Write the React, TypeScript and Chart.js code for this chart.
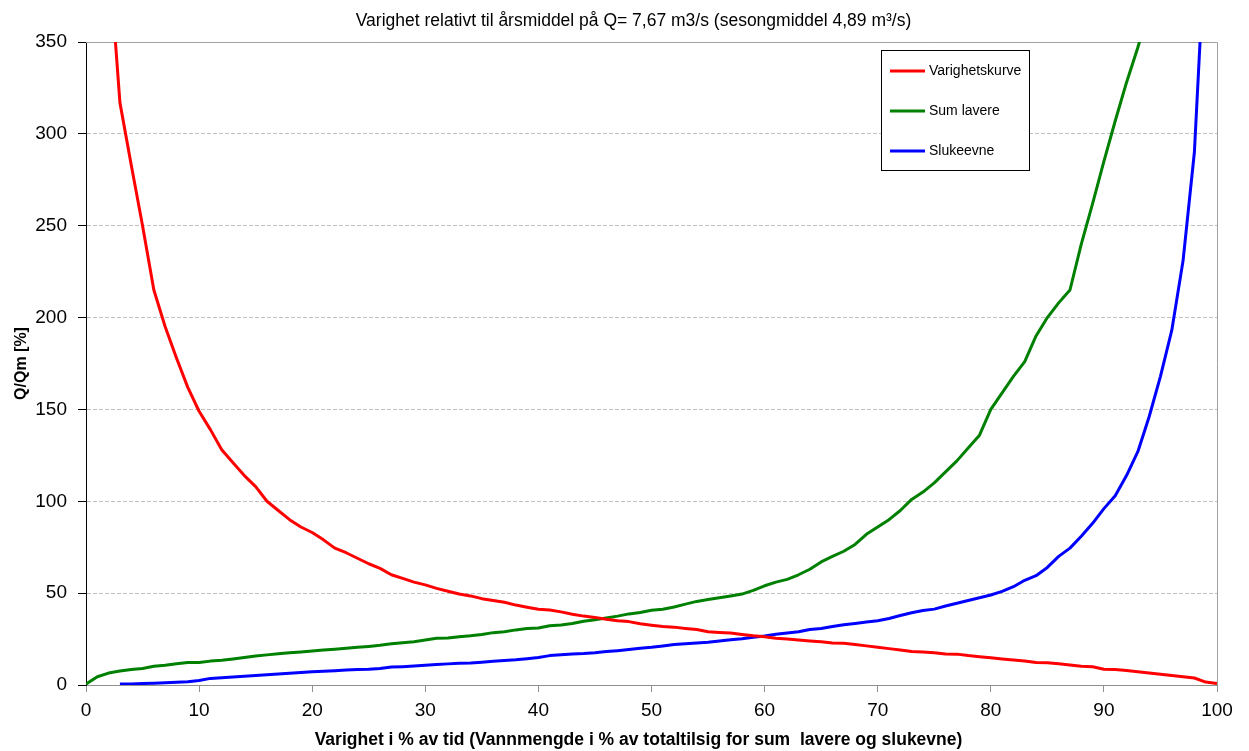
import React, { useEffect, useRef } from "react";
import { Chart, registerables } from "chart.js";

Chart.register(...registerables);

const durationPct: number[] = Array.from({ length: 101 }, (_, i) => i);

const varighetskurve: (number | null)[] = [
  800, 550, 400, 317, 283, 250, 215, 195, 178, 162,
  149, 139, 128, 121, 114, 108, 100, 95, 90, 86,
  83, 79, 74.5, 72, 69, 66, 63.5, 60, 58, 56,
  54.5, 52.6, 51, 49.5, 48.5, 47, 46, 45, 43.5, 42.3,
  41.2, 40.8, 39.8, 38.5, 37.5, 36.8, 35.8, 35, 34.5, 33.3,
  32.5, 31.8, 31.5, 30.8, 30.2, 29, 28.6, 28.3, 27.5, 26.8,
  26.3, 25.5, 25, 24.5, 24, 23.5, 22.8, 22.7, 22, 21.3,
  20.5, 19.8, 19, 18.2, 18, 17.6, 16.9, 16.8, 16, 15.4,
  14.8, 14.2, 13.6, 13, 12.3, 12.1, 11.6, 10.9, 10.2, 9.9,
  8.6, 8.5, 7.9, 7.2, 6.5, 5.9, 5.2, 4.5, 3.8, 1.6,
  0.8,
];

const sumLavere: (number | null)[] = [
  0.5, 4.5, 6.5, 7.6, 8.4, 9, 10.2, 10.8, 11.6, 12.3,
  12.3, 13, 13.5, 14.2, 15, 15.8, 16.4, 17, 17.5, 18,
  18.5, 19, 19.5, 20, 20.5, 21, 21.6, 22.4, 23, 23.6,
  24.5, 25.4, 25.6, 26.3, 26.8, 27.5, 28.5, 29, 30, 30.7,
  31, 32.3, 32.7, 33.5, 34.7, 35.5, 36.5, 37.5, 38.7, 39.5,
  40.7, 41.2, 42.5, 44, 45.5, 46.5, 47.5, 48.5, 49.5, 51.5,
  54, 56, 57.5, 60, 63, 67, 70, 72.8, 76.5, 82,
  86, 90, 95, 101, 105, 110, 116, 122, 129, 136,
  150, 159, 168, 176, 190, 200, 208, 215, 240, 262,
  285, 307, 328, 347, 368, null, null, null, null, null,
  null,
];

const slukeevne: (number | null)[] = [
  null, null, null, 0.5, 0.6, 0.8, 1, 1.2, 1.5, 1.8,
  2.5, 3.6, 4, 4.4, 4.8, 5.2, 5.6, 6, 6.4, 6.8,
  7.2, 7.5, 7.8, 8.1, 8.4, 8.6, 9, 9.8, 10, 10.3,
  10.7, 11.1, 11.5, 11.8, 12, 12.4, 12.9, 13.3, 13.7, 14.3,
  15, 16, 16.5, 16.9, 17.1, 17.5, 18.2, 18.7, 19.3, 20,
  20.5, 21.2, 22, 22.4, 22.8, 23.3, 24, 24.6, 25.2, 26,
  26.7, 27.6, 28.3, 29, 30.2, 30.8, 31.8, 32.8, 33.5, 34.3,
  35, 36.2, 37.8, 39.3, 40.5, 41.3, 43, 44.5, 46, 47.5,
  49, 51, 53.5, 57, 59.5, 64, 70, 74.5, 81, 88,
  96, 103, 114, 127, 146, 168, 193, 231, 290, 410,
  null,
];

const seriesNames = ["Varighetskurve", "Sum lavere", "Slukeevne"];
const seriesColors = ["#ff0000", "#008000", "#0000ff"];

const yTicks = [0, 50, 100, 150, 200, 250, 300, 350];
const xTicks = [0, 10, 20, 30, 40, 50, 60, 70, 80, 90, 100];

const chartTitle = "Varighet relativt til årsmiddel på Q= 7,67 m3/s (sesongmiddel 4,89 m³/s)";
const xTitle = "Varighet i % av tid (Vannmengde i % av totaltilsig for sum  lavere og slukevne)";
const yTitle = "Q/Qm [%]";

const FONT = "'Liberation Sans', Arial, sans-serif";

const framePlugin = {
  id: "frame",
  beforeDatasetsDraw(chart: any) {
    const { ctx, chartArea } = chart;
    ctx.save();
    ctx.strokeStyle = "#a0a0a0";
    ctx.lineWidth = 1;
    ctx.beginPath();
    ctx.moveTo(chartArea.left, chartArea.top + 0.5);
    ctx.lineTo(chartArea.right + 0.5, chartArea.top + 0.5);
    ctx.lineTo(chartArea.right + 0.5, chartArea.bottom);
    ctx.stroke();
    ctx.restore();
  },
  afterDraw(chart: any) {
    const { ctx, chartArea, width, height } = chart;
    ctx.save();
    // title
    ctx.fillStyle = "#000";
    ctx.font = `17.5px ${FONT}`;
    ctx.textAlign = "center";
    ctx.textBaseline = "alphabetic";
    ctx.fillText(chartTitle, width / 2 + 9, 26);
    // x-axis title
    ctx.font = `bold 17.5px ${FONT}`;
    ctx.textBaseline = "middle";
    ctx.fillText(xTitle, width / 2 + 14, height - 11);
    // legend
    const bx = chartArea.left + 795;
    const by = chartArea.top + 8;
    const bw = 148;
    const bh = 120;
    ctx.fillStyle = "#fff";
    ctx.fillRect(bx, by, bw, bh);
    ctx.strokeStyle = "#000";
    ctx.lineWidth = 1;
    ctx.strokeRect(bx + 0.5, by + 0.5, bw, bh);
    ctx.font = `14px ${FONT}`;
    ctx.textAlign = "left";
    ctx.textBaseline = "middle";
    seriesNames.forEach((name, i) => {
      const ly = by + 21 + i * 40;
      ctx.strokeStyle = seriesColors[i];
      ctx.lineWidth = 3;
      ctx.beginPath();
      ctx.moveTo(bx + 9, ly);
      ctx.lineTo(bx + 44, ly);
      ctx.stroke();
      ctx.fillStyle = "#000";
      ctx.fillText(name, bx + 48, ly);
    });
    ctx.restore();
  },
};

export default function App() {
  const canvasRef = useRef<HTMLCanvasElement | null>(null);

  useEffect(() => {
    if (!canvasRef.current) return;
    const chart = new Chart(canvasRef.current, {
      type: "line",
      data: {
        labels: durationPct,
        datasets: [
          { label: seriesNames[0], data: durationPct.map((x, i) => ({ x, y: varighetskurve[i] })) as any },
          { label: seriesNames[1], data: durationPct.map((x, i) => ({ x, y: sumLavere[i] })) as any },
          { label: seriesNames[2], data: durationPct.map((x, i) => ({ x, y: slukeevne[i] })) as any },
        ].map((d, i) => ({
          ...d,
          borderColor: seriesColors[i],
          backgroundColor: seriesColors[i],
          borderWidth: 3,
          pointRadius: 0,
          tension: 0,
          fill: false,
          borderJoinStyle: "round" as const,
          spanGaps: false,
        })),
      },
      options: {
        responsive: false,
        animation: false,
        layout: { padding: { left: 0, right: 32, top: 42, bottom: 0 } },
        plugins: {
          legend: { display: false },
          title: { display: false },
          tooltip: { enabled: false },
        },
        scales: {
          x: {
            type: "linear",
            min: 0,
            max: 100,
            afterBuildTicks: (s: any) => {
              s.ticks = xTicks.map((v) => ({ value: v }));
            },
            afterFit: (s: any) => {
              s.height = 66;
            },
            ticks: { color: "#000", font: { family: FONT, size: 19 }, padding: 7, maxRotation: 0 },
            grid: { drawOnChartArea: false, drawTicks: true, tickLength: 7, tickColor: "#909090" },
            border: { display: true, color: "#909090", width: 1 },
            title: { display: false },
          },
          y: {
            type: "linear",
            min: 0,
            max: 350,
            afterBuildTicks: (s: any) => {
              s.ticks = yTicks.map((v) => ({ value: v }));
            },
            afterFit: (s: any) => {
              s.width = 86;
            },
            ticks: { color: "#000", font: { family: FONT, size: 19 }, padding: 11 },
            grid: { color: "#c0c0c0", lineWidth: 1, drawTicks: true, tickLength: 8, tickColor: "#000" },
            border: { display: true, color: "#000", width: 1, dash: [4, 2] },
            title: {
              display: true,
              text: yTitle,
              color: "#000",
              font: { family: FONT, size: 16, weight: "bold" },
              padding: { top: 12, bottom: 0 },
            },
          },
        },
      },
      plugins: [framePlugin],
    } as any);
    return () => chart.destroy();
  }, []);

  return (
    <div style={{ position: "fixed", left: 0, top: 0, width: 1249, height: 751, background: "#fff" }}>
      <canvas ref={canvasRef} width={1249} height={751} style={{ display: "block" }} />
    </div>
  );
}
